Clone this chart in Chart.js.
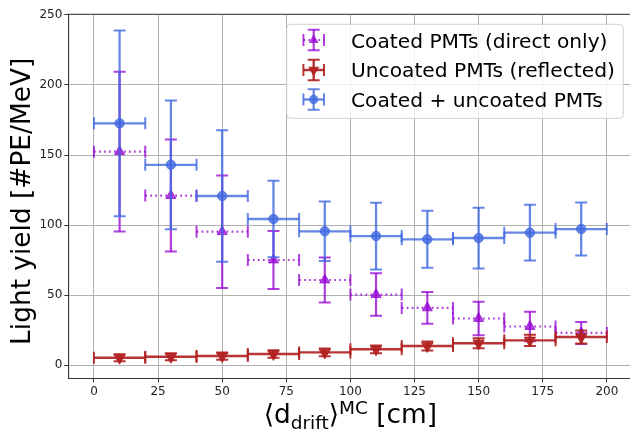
<!DOCTYPE html>
<html>
<head>
<meta charset="utf-8">
<script src="https://cdn.jsdelivr.net/npm/chart.js@4/dist/chart.umd.min.js"></script>
<style>
html,body{margin:0;padding:0;overflow:hidden;background:#fff;}
#wrap{position:relative;width:640px;height:434px;}
</style>
</head>
<body>
<div id="wrap"><canvas id="c" width="640" height="434"></canvas></div>
<script>
// ---- data ----
const xCenters = [10, 30, 50, 70, 90, 110, 130, 150, 170, 190];
const xHalfWidths = [10, 10, 10, 10, 10, 10, 10, 10, 10, 10];

const coatedDirect    = [152.4, 121.0, 95.2, 75.0, 60.7, 50.3, 40.8, 33.2, 27.5, 22.9];
const coatedDirectErr = [57.0, 40.0, 40.2, 20.7, 16.0, 15.2, 11.4, 12.0, 10.6, 7.9];

const uncoatedRefl    = [5.2, 5.9, 6.4, 7.9, 9.0, 11.2, 13.6, 15.5, 17.6, 20.0];
const uncoatedReflErr = [2.5, 2.5, 2.6, 2.7, 2.8, 2.8, 3.2, 3.6, 4.0, 4.6];

const combined    = [172.6, 143.0, 120.7, 104.3, 95.5, 92.1, 89.8, 90.7, 94.5, 97.1];
const combinedErr = [66.4, 46.0, 47.0, 27.3, 21.3, 23.8, 20.3, 21.7, 19.9, 18.9];

const seriesLabels = ['Coated PMTs (direct only)', 'Uncoated PMTs (reflected)', 'Coated + uncoated PMTs'];
const xTicks = [0, 25, 50, 75, 100, 125, 150, 175, 200];
const yTicks = [0, 50, 100, 150, 200, 250];
const yTitle = 'Light yield [#PE/MeV]';

// ---- styles ----
const PURPLE = 'rgba(148,0,211,0.75)';
const RED = 'rgba(178,34,34,0.92)';
const BLUE = 'rgba(65,105,225,0.8)';
const FONT = "'DejaVu Sans', sans-serif";

function pts(ys) { return xCenters.map((x, i) => ({x: x, y: ys[i]})); }

const datasets = [
  { label: seriesLabels[0], data: pts(coatedDirect), err: coatedDirectErr,
    color: PURPLE, xDash: [1.8, 3.2], lw: 2.2, order: 2,
    pointStyle: 'triangle', rotation: 0, pointRadius: 5.8,
    pointBackgroundColor: PURPLE, pointBorderColor: PURPLE, pointBorderWidth: 1, showLine: false },
  { label: seriesLabels[1], data: pts(uncoatedRefl), err: uncoatedReflErr,
    color: RED, xDash: [], lw: 2.4, order: 1,
    pointStyle: 'triangle', rotation: 180, pointRadius: 6.5,
    pointBackgroundColor: RED, pointBorderColor: RED, pointBorderWidth: 1, showLine: false },
  { label: seriesLabels[2], data: pts(combined), err: combinedErr,
    color: BLUE, xDash: [], lw: 2.3, order: 0,
    pointStyle: 'circle', rotation: 0, pointRadius: 4.7,
    pointBackgroundColor: BLUE, pointBorderColor: BLUE, pointBorderWidth: 1, showLine: false }
];

const CAP = 6;

function drawErrBar(ctx, xs, ys, x, y, xe, ye, ds) {
  const px = xs.getPixelForValue(x);
  const py = ys.getPixelForValue(y);
  const pxL = xs.getPixelForValue(x - xe);
  const pxR = xs.getPixelForValue(x + xe);
  const pyT = ys.getPixelForValue(y + ye);
  const pyB = ys.getPixelForValue(y - ye);
  ctx.strokeStyle = ds.color;
  ctx.lineWidth = ds.lw;
  ctx.lineCap = 'butt';
  ctx.setLineDash(ds.xDash);
  ctx.beginPath(); ctx.moveTo(pxL, py); ctx.lineTo(pxR, py); ctx.stroke();
  ctx.setLineDash([]);
  ctx.beginPath(); ctx.moveTo(px, pyT); ctx.lineTo(px, pyB); ctx.stroke();
  ctx.lineWidth = 2;
  ctx.beginPath();
  ctx.moveTo(px - CAP, pyT); ctx.lineTo(px + CAP, pyT);
  ctx.moveTo(px - CAP, pyB); ctx.lineTo(px + CAP, pyB);
  ctx.moveTo(pxL, py - CAP); ctx.lineTo(pxL, py + CAP);
  ctx.moveTo(pxR, py - CAP); ctx.lineTo(pxR, py + CAP);
  ctx.stroke();
}

const errorBarPlugin = {
  id: 'errbars',
  beforeDatasetDraw(chart, args) {
    const ds = chart.data.datasets[args.index];
    const ctx = chart.ctx;
    const xs = chart.scales.x, ys = chart.scales.y;
    ctx.save();
    ds.data.forEach((p, i) => drawErrBar(ctx, xs, ys, p.x, p.y, xHalfWidths[i], ds.err[i], ds));
    ctx.restore();
  }
};

function legendHandle(ctx, cx, cy, ds) {
  const h = 10.3;
  ctx.save();
  ctx.strokeStyle = ds.color;
  ctx.lineWidth = ds.lw;
  ctx.setLineDash(ds.xDash);
  ctx.beginPath(); ctx.moveTo(cx - h, cy); ctx.lineTo(cx + h, cy); ctx.stroke();
  ctx.setLineDash([]);
  ctx.beginPath(); ctx.moveTo(cx, cy - h); ctx.lineTo(cx, cy + h); ctx.stroke();
  ctx.lineWidth = 2;
  ctx.beginPath();
  ctx.moveTo(cx - CAP, cy - h); ctx.lineTo(cx + CAP, cy - h);
  ctx.moveTo(cx - CAP, cy + h); ctx.lineTo(cx + CAP, cy + h);
  ctx.moveTo(cx - h, cy - CAP); ctx.lineTo(cx - h, cy + CAP);
  ctx.moveTo(cx + h, cy - CAP); ctx.lineTo(cx + h, cy + CAP);
  ctx.stroke();
  ctx.fillStyle = ds.color;
  const r = ds.pointRadius;
  ctx.beginPath();
  if (ds.pointStyle === 'circle') {
    ctx.arc(cx, cy, r, 0, Math.PI * 2);
  } else {
    const a = ds.rotation * Math.PI / 180;
    for (let k = 0; k < 3; k++) {
      const ang = a + k * 2 * Math.PI / 3;
      const X = cx + Math.sin(ang) * r, Y = cy - Math.cos(ang) * r;
      if (k === 0) ctx.moveTo(X, Y); else ctx.lineTo(X, Y);
    }
    ctx.closePath();
  }
  ctx.fill();
  ctx.restore();
}

const decorPlugin = {
  id: 'decor',
  afterDraw(chart) {
    const ctx = chart.ctx;
    const a = chart.chartArea;
    ctx.save();
    ctx.strokeStyle = '#3a3a3a';
    ctx.lineWidth = 1.1;
    ctx.beginPath();
    ctx.moveTo(a.left, a.top); ctx.lineTo(a.right, a.top); ctx.lineTo(a.right, a.bottom);
    ctx.stroke();

    // y axis title
    ctx.fillStyle = '#000';
    ctx.font = '26.4px ' + FONT;
    ctx.textAlign = 'center';
    ctx.textBaseline = 'alphabetic';
    ctx.save();
    ctx.translate(30, (a.top + a.bottom) / 2 + 5);
    ctx.rotate(-Math.PI / 2);
    ctx.fillText(yTitle, 0, 0);
    ctx.restore();

    // x axis title with subscript / superscript
    const parts = [
      {t: '\u27E8d', s: 26.4, dy: 0},
      {t: 'drift', s: 18.5, dy: 6},
      {t: '\u27E9', s: 26.4, dy: 0},
      {t: 'MC', s: 18.5, dy: -9},
      {t: ' [cm]', s: 26.4, dy: 0}
    ];
    ctx.textAlign = 'left';
    let total = 0;
    parts.forEach(p => { ctx.font = p.s + 'px ' + FONT; p.w = ctx.measureText(p.t).width; total += p.w; });
    let x = (a.left + a.right) / 2 - total / 2;
    const base = 423;
    parts.forEach(p => { ctx.font = p.s + 'px ' + FONT; ctx.fillText(p.t, x, base + p.dy); x += p.w; });

    // legend
    const bx = 286.7, by = 24.3, bw = 336.6, bh = 94;
    ctx.beginPath();
    ctx.roundRect(bx, by, bw, bh, 4);
    ctx.fillStyle = 'rgba(255,255,255,0.8)';
    ctx.fill();
    ctx.strokeStyle = 'rgba(204,204,204,0.9)';
    ctx.lineWidth = 1;
    ctx.stroke();
    const handleY = [40, 70, 99.5];
    const textY = [47.7, 77.4, 107];
    [0, 1, 2].forEach((di, r) => {
      const ds = chart.data.datasets[di];
      legendHandle(ctx, 313.7, handleY[r], ds);
      ctx.fillStyle = '#000';
      ctx.font = '20.2px ' + FONT;
      ctx.textAlign = 'left';
      ctx.textBaseline = 'alphabetic';
      ctx.fillText(ds.label, 351, textY[r]);
    });
    ctx.restore();
  }
};

new Chart(document.getElementById('c'), {
  type: 'scatter',
  data: { datasets: datasets },
  plugins: [errorBarPlugin, decorPlugin],
  options: {
    responsive: false,
    animation: false,
    devicePixelRatio: 1,
    layout: { padding: { top: 14.3, right: 7, left: 0, bottom: 0 } },
    plugins: { legend: { display: false }, tooltip: { enabled: false } },
    scales: {
      x: {
        type: 'linear', min: -10, max: 210,
        afterBuildTicks(s) { s.ticks = xTicks.map(v => ({value: v})); },
        afterFit(s) { s.height = 434 - 378.3; },
        grid: { color: '#b0b0b0', lineWidth: 1, drawTicks: true, tickLength: 4, tickColor: '#333' },
        border: { display: true, color: '#333', width: 1.1 },
        ticks: { color: '#222', font: { family: FONT, size: 12 }, padding: 2, maxRotation: 0, autoSkip: false }
      },
      y: {
        type: 'linear', min: -9.5, max: 250.5,
        afterBuildTicks(s) { s.ticks = yTicks.map(v => ({value: v})); },
        afterFit(s) { s.width = 68.3; },
        grid: { color: '#b0b0b0', lineWidth: 1, drawTicks: true, tickLength: 4, tickColor: '#333' },
        border: { display: true, color: '#333', width: 1.1 },
        ticks: { color: '#222', font: { family: FONT, size: 12 }, padding: 2, autoSkip: false }
      }
    }
  }
});
</script>
</body>
</html>
